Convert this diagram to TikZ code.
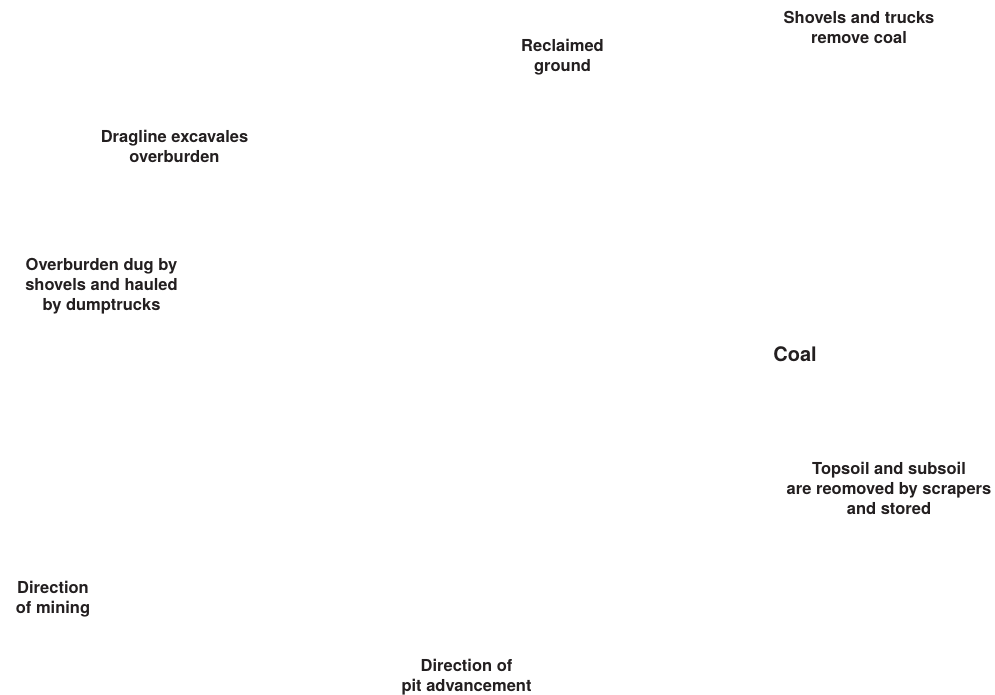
\documentclass[tikz,border=0pt]{standalone}
\usepackage{fontspec}
\setmainfont{TeX Gyre Heros}
\definecolor{txt}{HTML}{231F20}
\begin{document}
\begin{tikzpicture}[x=1pt,y=-1pt,
  lbl/.style={anchor=base,align=center,inner sep=0pt,text=txt,
    font=\fontsize{16.5}{20}\selectfont\bfseries},
  big/.style={lbl,font=\fontsize{20}{24}\selectfont\bfseries}]
\useasboundingbox[fill=white] (0,0) rectangle (995,695);
\node[lbl] (recl) at (562.5,72) {Reclaimed\\ground};
\node[lbl] (shov) at (859,43.3) {Shovels and trucks\\remove coal};
\node[lbl] (drag) at (174.5,162.3) {Dragline excavales\\overburden};
\node[lbl] (over) at (101.5,310.7) {Overburden dug by\\shovels and hauled\\by dumptrucks};
\node[big] (coal) at (795,361.7) {Coal};
\node[lbl] (tops) at (889,514.3) {Topsoil and subsoil\\are reomoved by scrapers\\and stored};
\node[lbl] (dirm) at (53,613) {Direction\\of mining};
\node[lbl] (dirp) at (466.5,691) {Direction of\\pit advancement};
\end{tikzpicture}
\end{document}
